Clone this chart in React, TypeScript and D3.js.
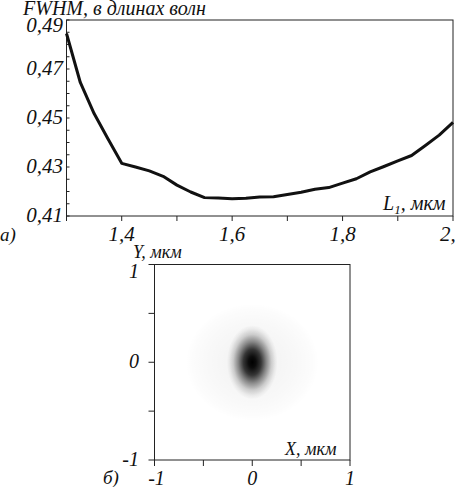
import React from "react";
import * as d3 from "d3";

// Top chart data: FWHM vs L1
const lengthsL1 = [1.3, 1.325, 1.35, 1.375, 1.4, 1.425, 1.45, 1.475, 1.5, 1.525, 1.55, 1.575, 1.6, 1.625, 1.65, 1.675, 1.7, 1.725, 1.75, 1.775, 1.8, 1.825, 1.85, 1.875, 1.9, 1.925, 1.95, 1.975, 2.0];
const fwhmValues = [0.4845, 0.4645, 0.4518, 0.4415, 0.4315, 0.43, 0.4284, 0.4262, 0.4226, 0.4198, 0.4175, 0.4173, 0.417, 0.4172, 0.4178, 0.4179, 0.4188, 0.4197, 0.4209, 0.4216, 0.4234, 0.4252, 0.428, 0.4302, 0.4325, 0.4347, 0.4388, 0.443, 0.4482];
const xTickValues = [1.3, 1.4, 1.5, 1.6, 1.7, 1.8, 1.9, 2.0];
const xTickLabels = ["", "1,4", "", "1,6", "", "1,8", "", "2,0"];
const yTickValues = [0.41, 0.43, 0.45, 0.47, 0.49];
const yTickLabels = ["0,41", "0,43", "0,45", "0,47", "0,49"];

// Bottom chart: focal spot intensity
const spotTicks = [-1, -0.5, 0, 0.5, 1];
const spotTickLabels = ["-1", "", "0", "", "1"];
const coreRadius = { rx: 0.26, ry: 0.38 };
const haloRadius = { rx: 0.68, ry: 0.6 };
const coreProfile = [[0, 1], [0.15, 0.95], [0.35, 0.78], [0.55, 0.45], [0.75, 0.17], [0.9, 0.05], [1, 0]];
const haloProfile = [[0, 0.05], [0.4, 0.04], [0.7, 0.025], [0.9, 0.012], [1, 0]];

const CSS = `svg.fig text, svg.fig tspan { font-family: "Liberation Serif", "Times New Roman", serif !important; font-style: italic; }`;

type TProps = { x: number; y: number; size: number; anchor?: string; children?: React.ReactNode };
function T({ x, y, size, anchor = "start", children }: TProps) {
  return (
    <text
      x={x}
      y={y}
      fontSize={size}
      textAnchor={anchor}
      fill="#111"
      fontFamily="Times New Roman"
      fontStyle="italic"
    >
      {children}
    </text>
  );
}

export default function App() {
  const x = d3.scaleLinear().domain([1.3, 2.0]).range([66.5, 453]);
  const y = d3.scaleLinear().domain([0.41, 0.49]).range([216, 20]);
  const minorY = d3.range(0.41, 0.4901, 0.005);
  const line = d3
    .line<number>()
    .x((_, i) => x(lengthsL1[i]))
    .y((d) => y(d))
    .curve(d3.curveLinear);

  const sx = d3.scaleLinear().domain([-1, 1]).range([154.5, 350]);
  const sy = d3.scaleLinear().domain([-1, 1]).range([460, 264.5]);

  return (
    <svg
      className="fig"
      width={455}
      height={487}
      fontFamily="Times New Roman"
      style={{ position: "absolute", left: 0, top: 0, background: "#fff", fontFamily: "Times New Roman" }}
    >
      <style>{CSS}</style>
      <defs>
        <radialGradient id="core">
          {coreProfile.map(([o, a], i) => (
            <stop key={i} offset={o} stopColor="#000" stopOpacity={a} />
          ))}
        </radialGradient>
        <radialGradient id="halo">
          {haloProfile.map(([o, a], i) => (
            <stop key={i} offset={o} stopColor="#000" stopOpacity={a} />
          ))}
        </radialGradient>
        <clipPath id="spotClip">
          <rect x={sx(-1)} y={sy(1)} width={sx(1) - sx(-1)} height={sy(-1) - sy(1)} />
        </clipPath>
      </defs>

      {/* Top chart */}
      <T x={23} y={15} size={20}>FWHM, в длинах волн</T>
      <rect x={x(1.3)} y={y(0.49)} width={x(2.0) - x(1.3)} height={y(0.41) - y(0.49)} fill="none" stroke="#222" strokeWidth={1} />
      {minorY.map((v, i) => (
        <line key={i} x1={x(1.3)} x2={x(1.3) + 3} y1={y(v)} y2={y(v)} stroke="#222" strokeWidth={1} />
      ))}
      {yTickValues.map((v, i) => (
        <T key={i} x={63} y={y(v) + (i === yTickValues.length - 1 ? 12 : 6)} size={21} anchor="end">
          {yTickLabels[i]}
        </T>
      ))}
      {xTickValues.map((v, i) => (
        <g key={i}>
          <line x1={x(v)} x2={x(v)} y1={y(0.41)} y2={y(0.41) + 5} stroke="#222" strokeWidth={1} />
          {xTickLabels[i] && (
            <T x={x(v)} y={241} size={21} anchor="middle">
              {xTickLabels[i]}
            </T>
          )}
        </g>
      ))}
      <path d={line(fwhmValues) || ""} fill="none" stroke="#111" strokeWidth={3} strokeLinejoin="round" />
      <T x={383} y={210} size={20}>
        L<tspan fontSize={13} dy={4}>1</tspan>
        <tspan dy={-4}>, мкм</tspan>
      </T>
      <T x={0} y={241} size={19}>a)</T>

      {/* Bottom chart */}
      <g clipPath="url(#spotClip)">
        <ellipse cx={sx(0)} cy={sy(0)} rx={sx(haloRadius.rx) - sx(0)} ry={sy(0) - sy(haloRadius.ry)} fill="url(#halo)" />
        <ellipse cx={sx(0)} cy={sy(0)} rx={sx(coreRadius.rx) - sx(0)} ry={sy(0) - sy(coreRadius.ry)} fill="url(#core)" />
      </g>
      <rect x={sx(-1)} y={sy(1)} width={sx(1) - sx(-1)} height={sy(-1) - sy(1)} fill="none" stroke="#222" strokeWidth={1} />
      {spotTicks.map((v, i) => (
        <g key={i}>
          <line x1={sx(v)} x2={sx(v)} y1={sy(-1)} y2={sy(-1) + 6} stroke="#222" strokeWidth={1} />
          <line x1={sx(-1) - 6} x2={sx(-1)} y1={sy(v)} y2={sy(v)} stroke="#222" strokeWidth={1} />
          {spotTickLabels[i] && (
            <T x={sx(v) + (i === 0 ? 2 : 0)} y={485} size={20} anchor="middle">
              {spotTickLabels[i]}
            </T>
          )}
          {spotTickLabels[i] && (
            <T x={139} y={sy(v) + (i === spotTicks.length - 1 ? 13 : 6)} size={20} anchor="end">
              {spotTickLabels[i]}
            </T>
          )}
        </g>
      ))}
      <T x={133} y={258} size={18}>Y, мкм</T>
      <T x={285} y={455} size={18}>X, мкм</T>
      <T x={103} y={484} size={19}>б)</T>
    </svg>
  );
}
